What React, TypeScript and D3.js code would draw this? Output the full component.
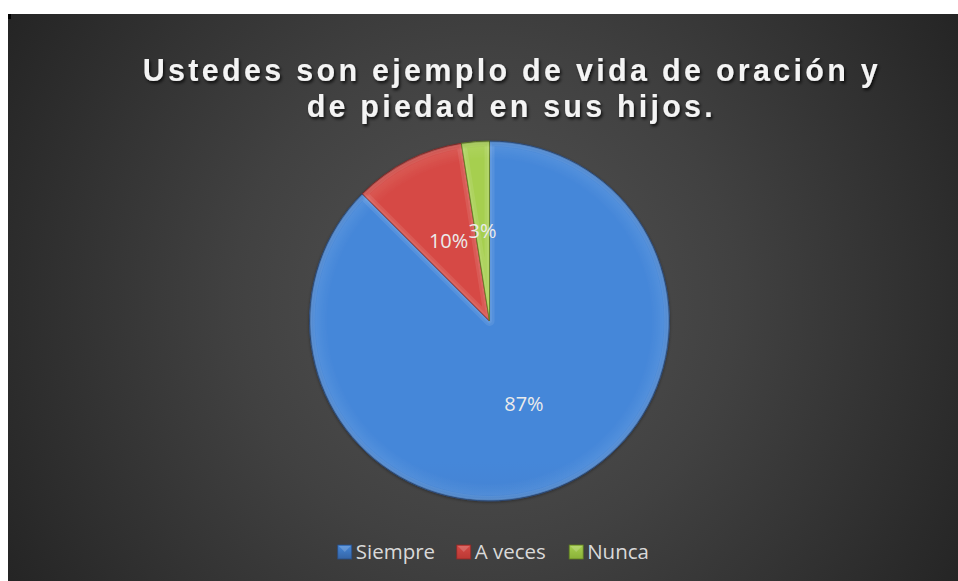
import React from "react";
import * as d3 from "d3";

const categories = ["Siempre", "A veces", "Nunca"];
const counts = [35, 4, 1];
const percentLabels = ["87%", "10%", "3%"];
const titleLines = ["Ustedes son ejemplo de vida de oración y", "de piedad en sus hijos."];

const W = 958;
const H = 581;

const sliceColors = [
  { top: "#4587d9", bottom: "#3564a5", edge: "#2a4e84" },
  { top: "#d64a45", bottom: "#bb3834", edge: "#8e2a27" },
  { top: "#a6cf4f", bottom: "#8ab238", edge: "#5f7d22" },
];

export default function App() {
  const cx = 489.5;
  const cy = 321;
  const r = 180;

  const pie = d3
    .pie<number>()
    .sort(null)
    .startAngle(0)
    .endAngle(2 * Math.PI)
    .value((d) => d);
  const arcs = pie(counts);
  const arcGen = d3.arc<d3.PieArcDatum<number>>().innerRadius(0).outerRadius(r);
  const labelArc = d3.arc<d3.PieArcDatum<number>>().innerRadius(0).outerRadius(r);

  const legendFont = 20.5;
  const charW = (s: string) => {
    const w: Record<string, number> = {
      S: 0.55, i: 0.258, e: 0.561, m: 0.854, p: 0.614, r: 0.408, A: 0.683, " ": 0.26,
      v: 0.5, c: 0.479, s: 0.44, N: 0.764, u: 0.614, n: 0.614, a: 0.557,
    };
    return s.split("").reduce((acc, ch) => acc + (w[ch] ?? 0.55), 0) * legendFont;
  };
  const marker = 14;
  const markerGap = 4;
  const itemGap = 23;
  const itemWidths = categories.map((c) => marker + markerGap + charW(c));
  const totalW = itemWidths.reduce((a, b) => a + b, 0) + itemGap * (categories.length - 1);
  const legendCenter = 493.5;
  let lx = legendCenter - totalW / 2;
  const legendItems = categories.map((c, i) => {
    const x = lx;
    lx += itemWidths[i] + itemGap;
    return { c, x, i };
  });
  const legendY = 545;

  return (
    <svg
      width={W}
      height={H}
      style={{ position: "fixed", left: 0, top: 0, display: "block" }}
      xmlns="http://www.w3.org/2000/svg"
    >
      <defs>
        <radialGradient id="bg" gradientUnits="userSpaceOnUse" cx={485} cy={300} r={560}>
          <stop offset="0" stopColor="#545454" />
          <stop offset="0.45" stopColor="#414141" />
          <stop offset="1" stopColor="#242424" />
        </radialGradient>
        {sliceColors.map((c, i) => (
          <linearGradient key={i} id={`sg${i}`} gradientUnits="userSpaceOnUse" x1={0} y1={cy - r} x2={0} y2={cy + r}>
            <stop offset="0" stopColor={c.top} />
            <stop offset="1" stopColor={c.bottom} />
          </linearGradient>
        ))}
        {sliceColors.map((c, i) => (
          <linearGradient key={`m${i}`} id={`mg${i}`} x1="0" y1="0" x2="0" y2="1">
            <stop offset="0" stopColor={c.top} />
            <stop offset="1" stopColor={c.bottom} />
          </linearGradient>
        ))}
        <radialGradient id="rim" gradientUnits="userSpaceOnUse" cx={cx} cy={cy} r={r}>
          <stop offset="0.9" stopColor="#ffffff" stopOpacity="0" />
          <stop offset="0.965" stopColor="#ffffff" stopOpacity="0.07" />
          <stop offset="0.99" stopColor="#000000" stopOpacity="0.05" />
          <stop offset="1" stopColor="#000000" stopOpacity="0.3" />
        </radialGradient>
        {arcs.map((a, i) => (
          <clipPath key={i} id={`clip${i}`}>
            <path d={arcGen(a) || ""} transform={`translate(${cx},${cy})`} />
          </clipPath>
        ))}
        <filter id="tshadow" x="-10%" y="-30%" width="120%" height="160%">
          <feDropShadow dx="1.5" dy="2.2" stdDeviation="1.4" floodColor="#000" floodOpacity="0.75" />
        </filter>
        <filter id="pshadow" x="-20%" y="-20%" width="140%" height="140%">
          <feDropShadow dx="0" dy="1" stdDeviation="1.5" floodColor="#000" floodOpacity="0.35" />
        </filter>
      </defs>

      <rect x={0} y={0} width={W} height={H} fill="#ffffff" />
      <rect x={8} y={14} width={950} height={567} fill="url(#bg)" />
      <rect x={8} y={14} width={3} height={5} fill="#000" />

      <g fontFamily="'Liberation Sans', Arial, sans-serif" fontWeight="bold" fontSize={30.5} fill="#f4f4f4" filter="url(#tshadow)">
        <text x={510.3} y={81} textAnchor="middle" textLength={735} lengthAdjust="spacing">
          {titleLines[0]}
        </text>
        <text x={509.7} y={116.5} textAnchor="middle" textLength={406} lengthAdjust="spacing">
          {titleLines[1]}
        </text>
      </g>

      <g filter="url(#pshadow)">
        {arcs.map((a, i) => (
          <g key={i}>
            <path d={arcGen(a) || ""} transform={`translate(${cx},${cy})`} fill={`url(#sg${i})`} />
            <g clipPath={`url(#clip${i})`}>
              <path
                d={arcGen(a) || ""}
                transform={`translate(${cx},${cy})`}
                fill="none"
                stroke="#ffffff"
                strokeOpacity={0.09}
                strokeWidth={10}
                strokeLinejoin="round"
              />
              <path
                d={arcGen(a) || ""}
                transform={`translate(${cx},${cy})`}
                fill="none"
                stroke="#ffffff"
                strokeOpacity={0.07}
                strokeWidth={5}
                strokeLinejoin="round"
              />
            </g>
            <path
              d={arcGen(a) || ""}
              transform={`translate(${cx},${cy})`}
              fill="none"
              stroke={sliceColors[i].edge}
              strokeWidth={1}
              strokeOpacity={0.8}
              strokeLinejoin="round"
            />
          </g>
        ))}
        <circle cx={cx} cy={cy} r={r} fill="url(#rim)" />
      </g>

      <g fontFamily="'Open Sans', sans-serif" fontSize={20} fill="#ebebeb" textAnchor="middle">
        {arcs.map((a, i) => {
          const [x, y] = labelArc.centroid(a);
          return (
            <text key={i} x={cx + x} y={cy + y + 7.2}>
              {percentLabels[i]}
            </text>
          );
        })}
      </g>

      <g fontFamily="'Open Sans', sans-serif" fontSize={legendFont} fill="#d9d9d9">
        {legendItems.map(({ c, x, i }) => (
          <g key={c}>
            <rect x={x} y={legendY} width={marker} height={marker} fill={`url(#mg${i})`} stroke={sliceColors[i].edge} strokeWidth={0.8} />
            <path
              d={`M${x + 1},${legendY + 1} L${x + marker / 2},${legendY + marker / 2} L${x + marker - 1},${legendY + 1} Z`}
              fill="#ffffff"
              fillOpacity={0.18}
            />
            <text x={x + marker + markerGap} y={legendY + 14.3}>
              {c}
            </text>
          </g>
        ))}
      </g>
    </svg>
  );
}
